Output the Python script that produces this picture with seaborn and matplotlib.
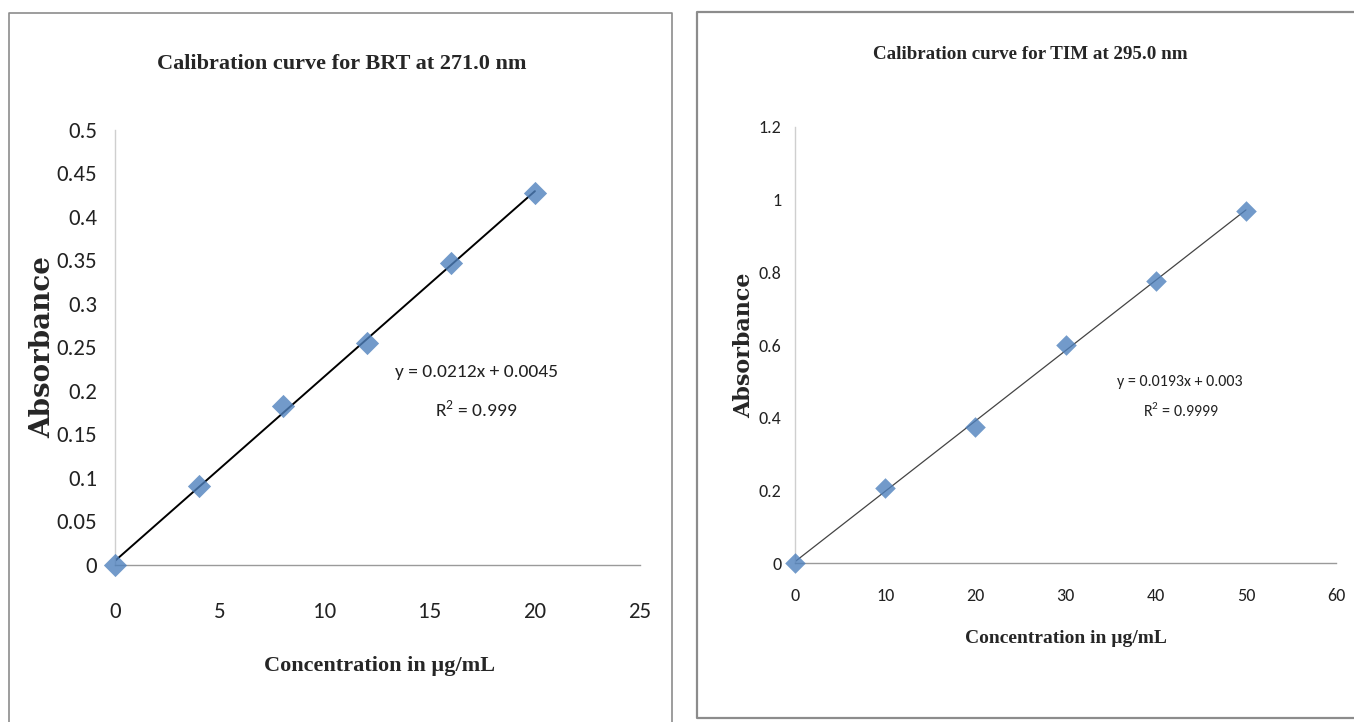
import matplotlib
matplotlib.use('Agg')
import matplotlib.pyplot as plt
import seaborn as sns
import pandas as pd
from matplotlib.lines import Line2D
from matplotlib.ticker import FuncFormatter

# 数据
brt_conc = [0, 4, 8, 12, 16, 20]
brt_abs = [0.0, 0.091, 0.183, 0.255, 0.347, 0.427]
tim_conc = [0, 10, 20, 30, 40, 50]
tim_abs = [0.0, 0.207, 0.375, 0.600, 0.777, 0.968]

brt_title = 'Calibration curve for BRT at 271.0 nm'
tim_title = 'Calibration curve for TIM at 295.0 nm'
brt_eq = ['y = 0.0212x + 0.0045', 'R$^2$ = 0.999']
tim_eq = ['y = 0.0193x + 0.003', 'R$^2$ = 0.9999']
xlab = 'Concentration in µg/mL'
ylab = 'Absorbance'

sns.set_style('white')
plt.rcParams['font.family'] = ['Carlito', 'Liberation Sans', 'DejaVu Sans']
plt.rcParams['mathtext.fontset'] = 'custom'
plt.rcParams['mathtext.rm'] = 'Carlito'
serif = ['Liberation Serif', 'DejaVu Serif']
yfont = ['DejaVu Serif']
blue = '#4F81BD'
txt = '#222222'

fig = plt.figure(figsize=(13.54, 7.22), dpi=100)

# panel frames
fig.add_artist(Line2D([0.0068, 0.0068, 0.4963, 0.4963], [0.0, 0.982, 0.982, 0.0],
                      transform=fig.transFigure, color='#8c8c8c', lw=1.2))
fig.add_artist(Line2D([1.01, 0.5145, 0.5145, 1.01], [0.006, 0.006, 0.983, 0.983],
                      transform=fig.transFigure, color='#8c8c8c', lw=1.6))

ax1 = fig.add_axes([0.0849, 0.2175, 0.3877, 0.6025])
ax2 = fig.add_axes([0.5872, 0.2202, 0.3996, 0.6039])

df1 = pd.DataFrame({'conc': brt_conc, 'abs': brt_abs})
df2 = pd.DataFrame({'conc': tim_conc, 'abs': tim_abs})

sns.regplot(data=df1, x='conc', y='abs', ax=ax1, ci=None, marker='D',
            scatter_kws=dict(s=140, color=blue, clip_on=False, zorder=3, linewidths=0),
            line_kws=dict(color='black', lw=1.4, zorder=2))
sns.regplot(data=df2, x='conc', y='abs', ax=ax2, ci=None, marker='D',
            scatter_kws=dict(s=110, color=blue, clip_on=False, zorder=3, linewidths=0),
            line_kws=dict(color='#444444', lw=0.9, zorder=2))

fmt = FuncFormatter(lambda v, _: f'{v:g}')

# left chart
ax1.set_xlim(0, 25)
ax1.set_ylim(0, 0.5)
ax1.set_xticks(range(0, 26, 5))
ax1.set_yticks([i * 0.05 for i in range(11)])
ax1.yaxis.set_major_formatter(fmt)
ax1.tick_params(axis='x', length=0, pad=27, labelsize=16.5, labelcolor=txt)
ax1.tick_params(axis='y', length=0, pad=13, labelsize=16.5, labelcolor=txt)
ax1.set_title(brt_title, fontsize=16, fontweight='bold', family=serif, pad=44, x=0.432)
ax1.set_xlabel(xlab, fontsize=16, fontweight='bold', family=serif, va='center')
ax1.xaxis.set_label_coords(0.503, -0.232)
ax1.set_ylabel(ylab, fontsize=20, fontweight='bold', family=yfont, va='center')
ax1.yaxis.set_label_coords(-0.137, 0.50)
ax1.text(17.2, 0.222, brt_eq[0], ha='center', va='center', fontsize=14, color=txt)
ax1.text(17.2, 0.178, brt_eq[1], ha='center', va='center', fontsize=14, color=txt)

# right chart
ax2.set_xlim(0, 60)
ax2.set_ylim(0, 1.2)
ax2.set_xticks(range(0, 61, 10))
ax2.set_yticks([i * 0.2 for i in range(7)])
ax2.yaxis.set_major_formatter(fmt)
ax2.tick_params(axis='x', length=0, pad=18, labelsize=13, labelcolor=txt)
ax2.tick_params(axis='y', length=0, pad=10, labelsize=13, labelcolor=txt)
ax2.set_title(tim_title, fontsize=13.7, fontweight='bold', family=serif, pad=49, x=0.434)
ax2.set_xlabel(xlab, fontsize=14, fontweight='bold', family=serif, va='center')
ax2.xaxis.set_label_coords(0.501, -0.172)
ax2.set_ylabel(ylab, fontsize=16, fontweight='bold', family=yfont, va='center')
ax2.yaxis.set_label_coords(-0.094, 0.50)
ax2.text(42.7, 0.499, tim_eq[0], ha='center', va='center', fontsize=11.5, color=txt)
ax2.text(42.8, 0.421, tim_eq[1], ha='center', va='center', fontsize=11.5, color=txt)

for ax in (ax1, ax2):
    sns.despine(ax=ax)
    ax.spines['left'].set_color('#cfcfcf')
    ax.spines['bottom'].set_color('#9a9a9a')
    ax.spines['left'].set_linewidth(1.0)
    ax.spines['bottom'].set_linewidth(1.0)

fig.savefig('out.png', dpi=100, facecolor='white')
